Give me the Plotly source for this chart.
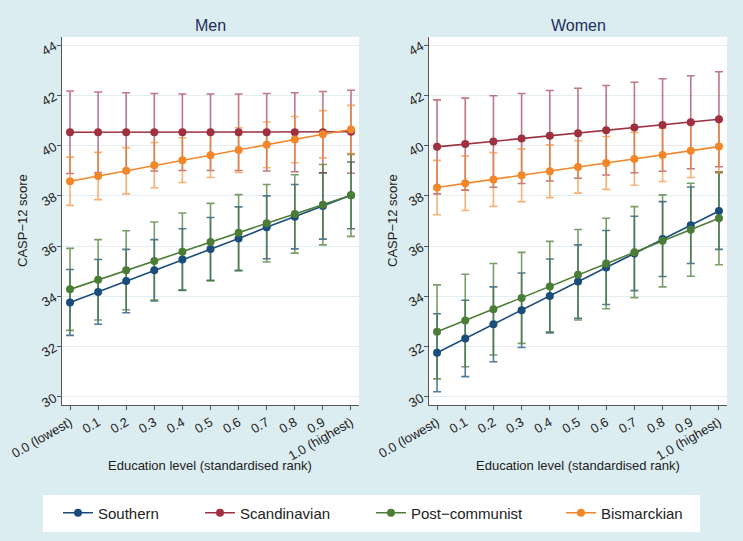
import plotly.graph_objects as go

# ---------------- data ----------------
x_vals = [0.0, 0.1, 0.2, 0.3, 0.4, 0.5, 0.6, 0.7, 0.8, 0.9, 1.0]
x_labels = ["0.0 (lowest)", "0.1", "0.2", "0.3", "0.4", "0.5", "0.6", "0.7", "0.8", "0.9", "1.0 (highest)"]
series_names = ["Southern", "Scandinavian", "Post\u2212communist", "Bismarckian"]

# Men: estimates and 95% CI half-widths
men_southern = [33.76, 34.18, 34.61, 35.04, 35.47, 35.89, 36.30, 36.75, 37.17, 37.60, 38.02]
men_southern_ci = [1.31, 1.29, 1.26, 1.22, 1.22, 1.25, 1.26, 1.25, 1.28, 1.32, 1.33]
men_scandinavian = [40.53, 40.53, 40.53, 40.53, 40.53, 40.53, 40.53, 40.53, 40.53, 40.53, 40.55]
men_scandinavian_ci = [1.64, 1.60, 1.57, 1.54, 1.52, 1.52, 1.52, 1.54, 1.57, 1.62, 1.65]
men_postcommunist = [34.28, 34.66, 35.04, 35.41, 35.78, 36.16, 36.53, 36.91, 37.28, 37.65, 38.02]
men_postcommunist_ci = [1.63, 1.60, 1.57, 1.55, 1.54, 1.54, 1.52, 1.54, 1.56, 1.60, 1.63]
men_bismarckian = [38.58, 38.79, 39.00, 39.22, 39.42, 39.62, 39.82, 40.03, 40.24, 40.45, 40.64]
men_bismarckian_ci = [0.96, 0.94, 0.92, 0.90, 0.89, 0.89, 0.89, 0.91, 0.92, 0.94, 0.96]

# Women: estimates and 95% CI half-widths
women_southern = [31.76, 32.33, 32.89, 33.45, 34.02, 34.59, 35.15, 35.71, 36.28, 36.83, 37.40]
women_southern_ci = [1.55, 1.52, 1.49, 1.48, 1.47, 1.46, 1.47, 1.48, 1.49, 1.52, 1.53]
women_scandinavian = [39.95, 40.06, 40.16, 40.28, 40.39, 40.49, 40.61, 40.72, 40.82, 40.93, 41.05]
women_scandinavian_ci = [1.87, 1.83, 1.82, 1.79, 1.80, 1.79, 1.78, 1.80, 1.84, 1.85, 1.89]
women_postcommunist = [32.59, 33.04, 33.49, 33.94, 34.39, 34.86, 35.31, 35.76, 36.21, 36.65, 37.11]
women_postcommunist_ci = [1.87, 1.84, 1.82, 1.81, 1.80, 1.80, 1.80, 1.81, 1.83, 1.85, 1.85]
women_bismarckian = [38.33, 38.50, 38.65, 38.82, 38.98, 39.15, 39.31, 39.47, 39.63, 39.79, 39.96]
women_bismarckian_ci = [1.08, 1.08, 1.07, 1.05, 1.05, 1.04, 1.05, 1.05, 1.06, 1.06, 1.05]

y_ticks = [30, 32, 34, 36, 38, 40, 42, 44]

# ---------------- styling ----------------
colors = ["#1a4d7c", "#9e3040", "#4c7d36", "#f2872a"]
ci_colors = ["rgba(26,77,124,0.75)", "rgba(158,48,64,0.65)", "rgba(76,125,54,0.75)", "rgba(242,135,42,0.65)"]
bg = "#dcedf1"
font_main = "Liberation Sans, Arial, sans-serif"
font_narrow = "Liberation Sans Narrow, Arial Narrow, Liberation Sans, sans-serif"

men = [(men_southern, men_southern_ci), (men_scandinavian, men_scandinavian_ci),
       (men_postcommunist, men_postcommunist_ci), (men_bismarckian, men_bismarckian_ci)]
women = [(women_southern, women_southern_ci), (women_scandinavian, women_scandinavian_ci),
         (women_postcommunist, women_postcommunist_ci), (women_bismarckian, women_bismarckian_ci)]

legend_ids = ["legend", "legend2", "legend3", "legend4"]

fig = go.Figure()

for panel, (xa, ya) in zip([men, women], [("x", "y"), ("x2", "y2")]):
    first = xa == "x"
    for i, (est, ci) in enumerate(panel):
        fig.add_trace(go.Scatter(
            x=x_vals, y=est, mode="markers", xaxis=xa, yaxis=ya,
            marker=dict(size=1, color="rgba(0,0,0,0)"),
            error_y=dict(type="data", array=ci, visible=True, color=ci_colors[i],
                         thickness=1.6, width=4),
            showlegend=False, hoverinfo="skip"))
    for i, (est, ci) in enumerate(panel):
        fig.add_trace(go.Scatter(
            x=x_vals, y=est, mode="lines+markers", xaxis=xa, yaxis=ya,
            name=series_names[i], legend=legend_ids[i], showlegend=first,
            line=dict(color=colors[i], width=1.6),
            marker=dict(color=colors[i], size=8)))

W, H = 743, 541
left_dom = [62 / W, 359 / W]
right_dom = [429 / W, 727 / W]
ydom = [1 - 405 / H, 1 - 37 / H]
xr = [-0.0285, 1.0285]
yr = [29.68, 44.32]

axis_common_x = dict(range=xr, tickvals=x_vals, ticktext=x_labels, tickangle=-30,
                     showline=True, linecolor="#555555", linewidth=1, ticks="outside",
                     ticklen=4, tickcolor="#555555", showgrid=False, zeroline=False,
                     automargin=False,
                     tickfont=dict(family=font_main, size=13, color="#222222"))
axis_common_y = dict(range=yr, tickvals=y_ticks, tickangle=-30,
                     showline=True, linecolor="#555555", linewidth=1, ticks="outside",
                     ticklen=4, tickcolor="#555555", showgrid=True, gridcolor="#e1edf0",
                     gridwidth=1, zeroline=False, automargin=False,
                     tickfont=dict(family=font_main, size=13, color="#222222"))

# legend entry text start positions (px)
legend_text_x = [100, 242, 413, 603]
legend_cfg = {}
for lid, tx in zip(legend_ids, legend_text_x):
    legend_cfg[lid] = dict(x=(tx - 42) / W, y=1 - 513 / H, xanchor="left", yanchor="middle",
                           bgcolor="rgba(0,0,0,0)", borderwidth=0, orientation="h",
                           font=dict(family=font_narrow, size=15, color="#222222"))

fig.update_layout(
    width=W, height=H,
    margin=dict(l=0, r=0, t=0, b=0, autoexpand=False),
    paper_bgcolor=bg, plot_bgcolor="white",
    xaxis=dict(domain=left_dom, anchor="y", **axis_common_x),
    yaxis=dict(domain=ydom, anchor="x", **axis_common_y),
    xaxis2=dict(domain=right_dom, anchor="y2", **axis_common_x),
    yaxis2=dict(domain=ydom, anchor="x2", **axis_common_y),
    showlegend=True,
    **legend_cfg,
)

fig.add_shape(type="rect", xref="paper", yref="paper",
              x0=43 / W, x1=700 / W, y0=1 - 532 / H, y1=1 - 495 / H,
              fillcolor="white", line=dict(width=0), layer="below")

annots = []
for cx, title in [((62 + 359) / 2, "Men"), ((429 + 727) / 2, "Women")]:
    annots.append(dict(x=cx / W, y=1 - 25 / H, xref="paper", yref="paper", text=title,
                       xanchor="center", yanchor="middle",
                       showarrow=False, font=dict(family=font_main, size=16, color="#1c2d5e")))
    annots.append(dict(x=cx / W, y=1 - 465 / H, xref="paper", yref="paper",
                       text="Education level (standardised rank)", showarrow=False,
                       xanchor="center", yanchor="middle",
                       font=dict(family=font_narrow, size=13, color="#222222")))
for yx in [22, 392]:
    annots.append(dict(x=yx / W, y=1 - 221 / H, xref="paper", yref="paper",
                       text="CASP\u221212 score", textangle=-90, showarrow=False,
                       xanchor="center", yanchor="middle",
                       font=dict(family=font_main, size=13, color="#222222")))
fig.update_layout(annotations=annots)

fig.write_html("out.html", config={"displayModeBar": False},
               post_script="document.body.style.margin='0';document.body.style.background='#dcedf1';")
